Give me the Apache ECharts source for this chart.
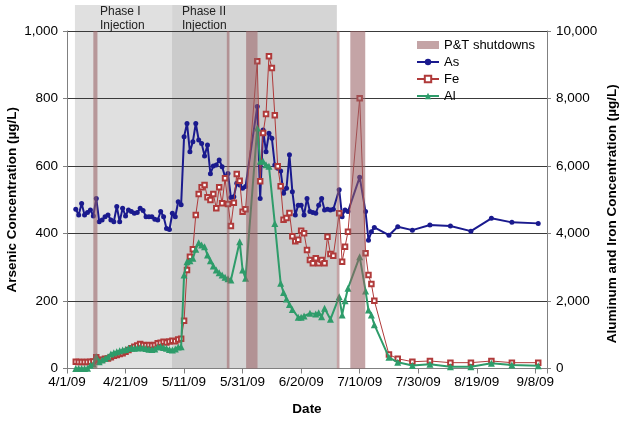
<!DOCTYPE html>
<html><head><meta charset="utf-8">
<script src="https://cdn.jsdelivr.net/npm/echarts@6/dist/echarts.min.js"></script>
<style>html,body{margin:0;padding:0;background:#fff}#c{width:624px;height:422px}</style>
</head><body><div id="c"></div>
<script>
// ---------- data ----------
const sampleDates = [
 '4/4/09','4/5/09','4/6/09','4/7/09','4/8/09','4/9/09','4/10/09','4/11/09','4/12/09','4/13/09','4/14/09','4/15/09','4/16/09','4/17/09','4/18/09','4/19/09','4/20/09','4/21/09','4/22/09','4/23/09','4/24/09','4/25/09','4/26/09','4/27/09','4/28/09','4/29/09','4/30/09',
 '5/1/09','5/2/09','5/3/09','5/4/09','5/5/09','5/6/09','5/7/09','5/8/09','5/9/09','5/10/09','5/11/09','5/12/09','5/13/09','5/14/09','5/15/09','5/16/09','5/17/09','5/18/09','5/19/09','5/20/09','5/21/09','5/22/09','5/23/09','5/24/09','5/25/09','5/26/09','5/27/09','5/28/09','5/29/09','5/30/09','5/31/09',
 '6/1/09',
 '6/5/09','6/6/09','6/7/09','6/8/09','6/9/09','6/10/09','6/11/09','6/12/09','6/13/09','6/14/09','6/15/09','6/16/09','6/17/09','6/18/09','6/19/09','6/20/09','6/21/09','6/22/09','6/23/09','6/24/09','6/25/09','6/26/09','6/27/09','6/28/09','6/29/09','6/30/09',
 '7/1/09','7/3/09','7/4/09','7/5/09','7/6/09','7/10/09','7/12/09','7/13/09','7/14/09','7/15/09','7/20/09','7/23/09','7/28/09','8/3/09','8/10/09','8/17/09','8/24/09','8/31/09','9/9/09'
];
const arsenic = [
 472,455,489,455,462,470,452,504,435,440,450,455,440,435,480,435,475,452,470,465,460,462,475,468,450,450,450,442,440,465,450,415,412,460,450,494,485,
 687,726,642,672,726,677,667,630,662,577,600,603,618,598,568,578,507,509,549,544,534,539,
 776,504,707,642,697,682,603,593,585,519,534,633,524,455,484,484,455,504,465,462,460,484,504,470,472,470,472,
 530,450,470,465,567,465,380,405,418,395,420,410,425,422,407,445,433,430
];
const iron = [
 200,195,195,190,195,200,205,330,250,260,290,300,330,380,400,430,450,500,548,600,646,680,726,700,690,696,680,700,745,760,795,770,800,825,810,860,880,
 1417,2918,3313,3531,4548,5170,5368,5437,5072,4993,5170,4746,5368,4894,5635,4874,4222,4913,5763,5565,4646,4717,
 9101,5547,6978,7541,9250,8904,7501,5990,5398,4410,4459,4607,3917,3768,3817,4083,4005,3511,3215,3116,3264,3116,3215,3116,3906,3393,3343,
 4598,3165,3610,4054,8006,3413,2770,2504,2010,415,290,201,222,173,173,222,173,173
];
const aluminum = [
 0,0,0,0,10,100,130,350,200,250,300,350,430,470,500,528,545,560,598,610,600,610,620,610,590,570,560,580,640,650,620,600,560,550,580,640,646,
 2770,3165,3195,3264,3531,3728,3659,3610,3363,3195,3037,2918,2839,2770,2701,2660,2622,null,null,3758,2918,2672,
 7126,6139,6139,6039,5990,null,4300,null,2524,2250,2060,1900,1750,null,1518,1516,1556,null,1635,null,1615,1654,1536,1783,null,1457,null,
 2128,1585,2010,2375,3313,2300,1733,1585,1300,331,183,90,124,54,54,153,104,84
];
const shutdownStart = ['4/10/09 00:00','5/25/09 14:24','6/1/09 04:48','7/2/09 04:48','7/6/09 19:12'];
const shutdownEnd   = ['4/11/09 09:36','5/26/09 12:00','6/5/09 02:24','7/3/09 02:24','7/11/09 21:36'];
const phaseLabels = ['Phase I\nInjection', 'Phase II\nInjection'];
const phaseStart  = ['4/3/09 17:00', '5/6/09 21:36'];
const phaseEnd    = ['5/6/09 21:36', '7/2/09 04:48'];
const injectionStart = ['5/6/09 21:36', '6/5/09 02:24'];
const injectionEnd   = ['5/25/09 14:24', '7/2/09 04:48'];
const axisStartDate = '4/1/09', axisEndDate = '9/12/09';
const xTickStepDays = 20;
const leftTicks  = {min: 0, max: 1000, step: 200};
const rightTicks = {min: 0, max: 10000, step: 2000};

// ---------- helpers ----------
const DAY = 86400000;
function parseDate(s){
  const [d, t] = s.split(' ');
  const [m, dd, yy] = d.split('/').map(Number);
  let ms = Date.UTC(2000 + yy, m - 1, dd);
  if (t) { const [h, mi] = t.split(':').map(Number); ms += (h * 60 + mi) * 60000; }
  return ms;
}
const BASE = parseDate(axisStartDate);
const toDay = s => (parseDate(s) - BASE) / DAY;
function fmtDay(v){
  const r = Math.round(v);
  if (Math.abs(v - r) > 1e-6 || r % xTickStepDays !== 0) return '';
  const dt = new Date(BASE + r * DAY);
  return (dt.getUTCMonth() + 1) + '/' + dt.getUTCDate() + '/' + String(dt.getUTCFullYear()).slice(2);
}
function pts(vals){
  const out = [];
  sampleDates.forEach((d, i) => { if (vals[i] != null) out.push([toDay(d), vals[i]]); });
  return out;
}
const FONT = '"Liberation Sans", Arial, Helvetica, sans-serif';
const phaseColors = ['#e0e0e0', '#d5d5d5'];
const shutColor = 'rgba(151,95,99,0.57)';

const chart = echarts.init(document.getElementById('c'), null, {renderer: 'canvas'});
chart.setOption({
  animation: false,
  textStyle: {fontFamily: FONT},
  grid: {left: 67, right: 77, top: 31, bottom: 53.5, containLabel: false, outerBoundsMode: 'none'},
  legend: {
    orient: 'vertical', left: 416, top: 38.5, itemWidth: 22, itemHeight: 8, itemGap: 4,
    padding: 0, selectedMode: false,
    textStyle: {fontSize: 13, color: '#000', fontFamily: FONT},
    data: [{name: 'P&T shutdowns', icon: 'rect'}, 'As', 'Fe', 'Al']
  },
  graphic: phaseLabels.map((t, i) => ({
    type: 'text', x: [100, 182][i], y: 5, z: 10,
    style: {text: t, fontSize: 12, fontFamily: FONT, fill: '#222', lineHeight: 14, verticalAlign: 'top'}
  })),
  xAxis: {
    type: 'value', min: 0, max: toDay(axisEndDate), interval: xTickStepDays,
    axisLine: {lineStyle: {color: '#808080'}},
    axisTick: {length: 5, lineStyle: {color: '#808080'}},
    axisLabel: {margin: 7, fontSize: 13.5, color: '#000', formatter: fmtDay},
    splitLine: {show: false},
    name: 'Date', nameLocation: 'middle', nameGap: 34, nameMoveOverlap: false,
    nameTextStyle: {fontWeight: 'bold', fontSize: 13.5, color: '#000'}
  },
  yAxis: [{
    type: 'value', position: 'left', min: leftTicks.min, max: leftTicks.max, interval: leftTicks.step,
    axisLine: {show: true, lineStyle: {color: '#808080'}},
    axisTick: {show: true, length: 4, lineStyle: {color: '#808080'}},
    axisLabel: {margin: 9, fontSize: 13.5, color: '#000'},
    splitLine: {show: true, lineStyle: {color: '#3a3a3a', width: 1}},
    name: 'Arsenic Concentration (µg/L)', nameLocation: 'middle', nameGap: 48, nameRotate: 90, nameMoveOverlap: false,
    nameTextStyle: {fontWeight: 'bold', fontSize: 13.5, color: '#000'}
  }, {
    type: 'value', position: 'right', min: rightTicks.min, max: rightTicks.max, interval: rightTicks.step,
    axisLine: {show: true, lineStyle: {color: '#808080'}},
    axisTick: {show: true, length: 4, lineStyle: {color: '#808080'}},
    axisLabel: {margin: 9, fontSize: 13.5, color: '#000'},
    splitLine: {show: false},
    name: 'Aluminum and Iron Concentration (µg/L)', nameLocation: 'middle', nameGap: 58, nameRotate: 90, nameMoveOverlap: false,
    nameTextStyle: {fontWeight: 'bold', fontSize: 13.5, color: '#000', padding: [0, 28, 0, 0]}
  }],
  series: [
    {
      type: 'custom', name: 'phases', silent: true, z: -3, clip: false,
      data: phaseStart.map((s, i) => [toDay(s), toDay(phaseEnd[i]), i]),
      encode: {x: [0, 1], y: 2},
      renderItem: (params, api) => {
        const x0 = api.coord([api.value(0), 0])[0], x1 = api.coord([api.value(1), 0])[0];
        const cs = params.coordSys, top = 5;
        return {type: 'rect', shape: {x: x0, y: top, width: x1 - x0, height: cs.y + cs.height - top},
                style: {fill: phaseColors[api.value(2)]}};
      }
    },
    {
      type: 'custom', name: 'injection', silent: true, z: -2,
      data: injectionStart.map((s, i) => [toDay(s), toDay(injectionEnd[i]), 0]),
      encode: {x: [0, 1], y: 2},
      renderItem: (params, api) => {
        const x0 = api.coord([api.value(0), 0])[0], x1 = api.coord([api.value(1), 0])[0];
        const cs = params.coordSys;
        return {type: 'rect', shape: {x: x0, y: cs.y, width: x1 - x0, height: cs.height},
                style: {fill: '#cbcbcb'}};
      }
    },
    {
      type: 'line', name: 'As', yAxisIndex: 0, data: pts(arsenic),
      symbol: 'circle', symbolSize: 5, showAllSymbol: true,
      lineStyle: {color: '#1a1a8e', width: 2}, itemStyle: {color: '#1a1a8e'}, z: 2
    },
    {
      type: 'line', name: 'Fe', yAxisIndex: 1, data: pts(iron),
      symbol: 'emptyRect', symbolSize: 4.5, showAllSymbol: true,
      lineStyle: {color: '#b03a3a', width: 1}, itemStyle: {color: '#b03a3a', borderWidth: 1}, z: 3
    },
    {
      type: 'line', name: 'Al', yAxisIndex: 1, data: pts(aluminum),
      symbol: 'triangle', symbolSize: 7, showAllSymbol: true,
      lineStyle: {color: '#2e9c6a', width: 2}, itemStyle: {color: '#2e9c6a'}, z: 4
    },
    {
      type: 'custom', name: 'P&T shutdowns', silent: true, z: 5,
      itemStyle: {color: shutColor},
      data: shutdownStart.map((s, i) => [toDay(s), toDay(shutdownEnd[i]), 0]),
      encode: {x: [0, 1], y: 2},
      renderItem: (params, api) => {
        const x0 = api.coord([api.value(0), 0])[0], x1 = api.coord([api.value(1), 0])[0];
        const cs = params.coordSys;
        return {type: 'rect', shape: {x: x0, y: cs.y, width: x1 - x0, height: cs.height},
                style: {fill: shutColor}};
      }
    }
  ]
});
</script>
</body></html>
